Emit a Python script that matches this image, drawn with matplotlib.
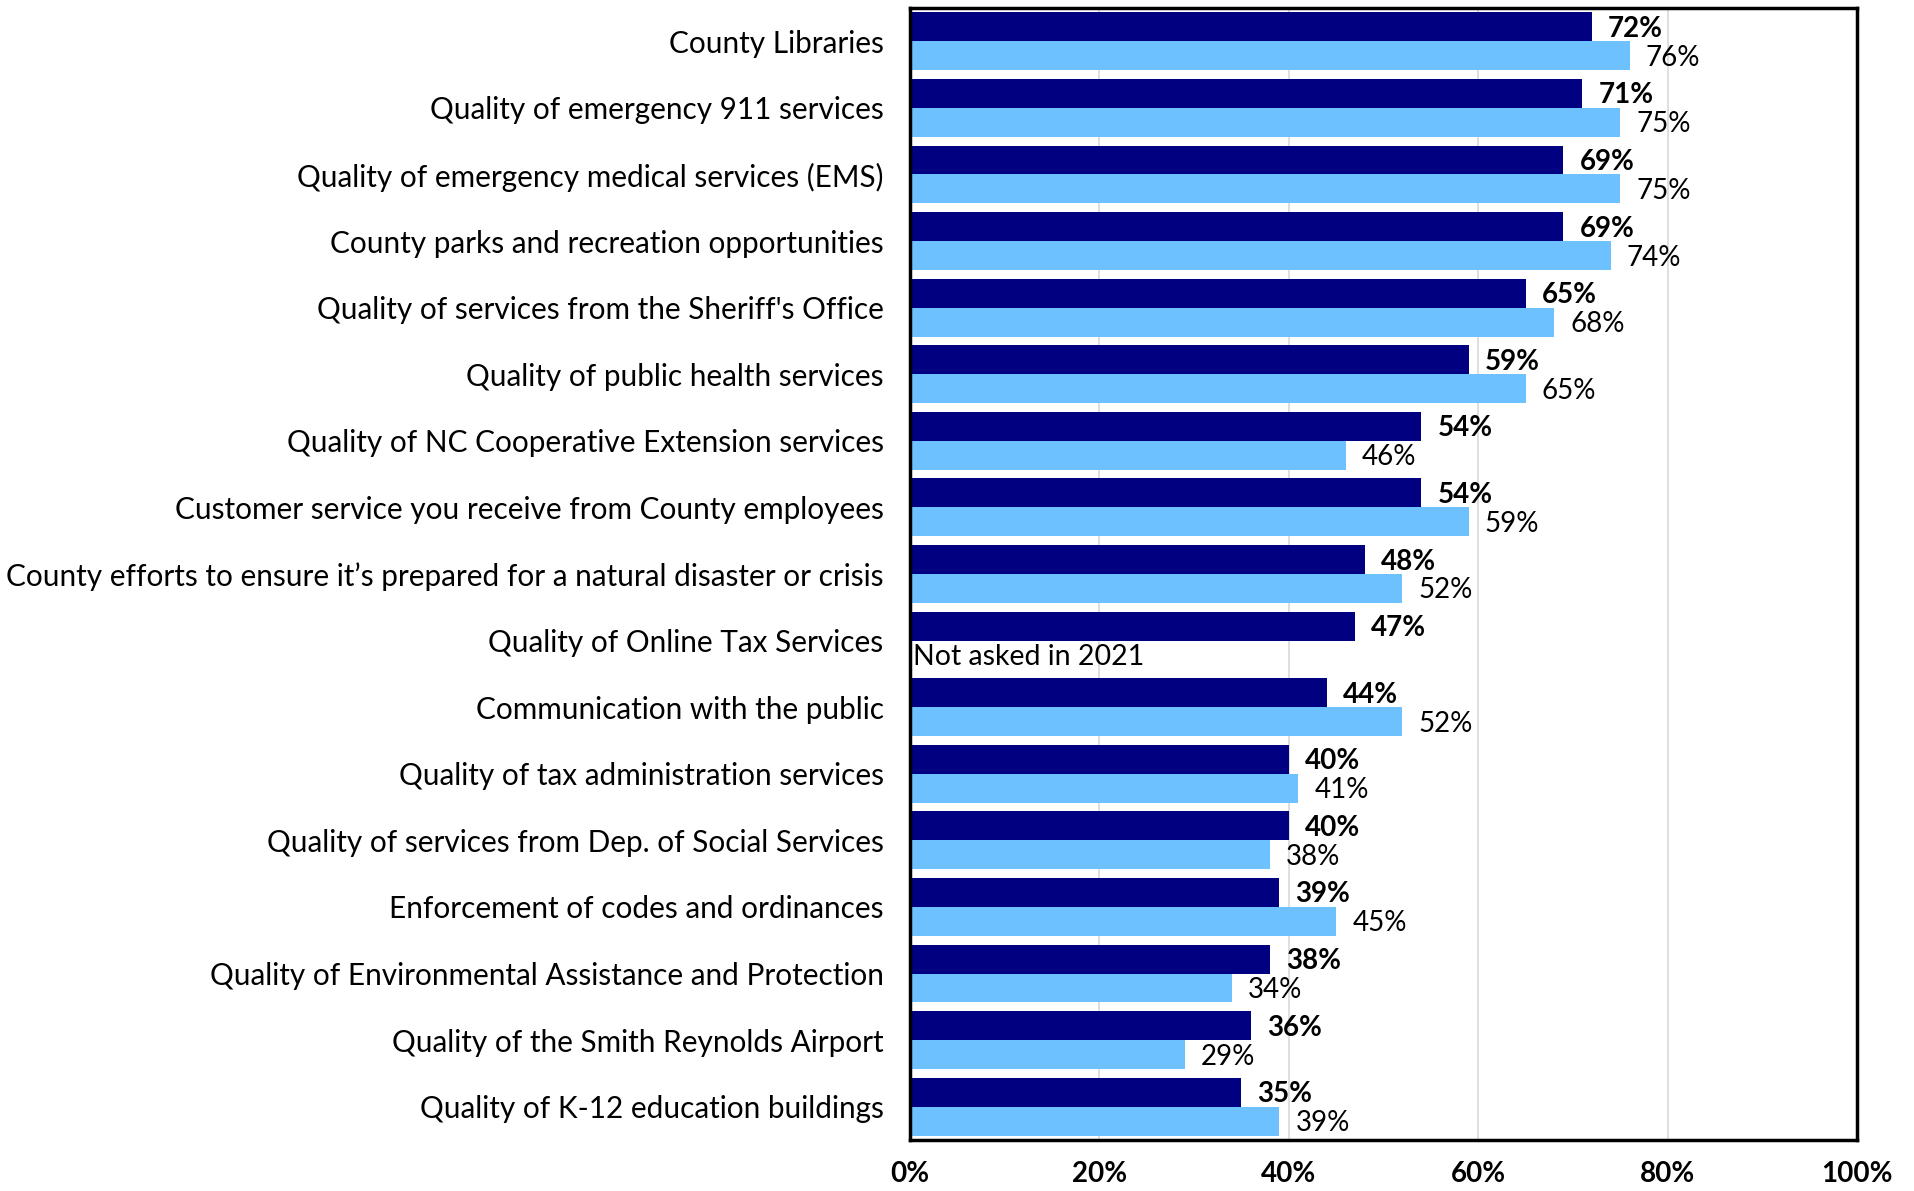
import numpy as np
import matplotlib
matplotlib.use("Agg")
import matplotlib.pyplot as plt

plt.rcParams['font.family'] = ['Lato', 'DejaVu Sans']

categories = [
    "County Libraries",
    "Quality of emergency 911 services",
    "Quality of emergency medical services (EMS)",
    "County parks and recreation opportunities",
    "Quality of services from the Sheriff's Office",
    "Quality of public health services",
    "Quality of NC Cooperative Extension services",
    "Customer service you receive from County employees",
    "County efforts to ensure it\u2019s prepared for a natural disaster or crisis",
    "Quality of Online Tax Services",
    "Communication with the public",
    "Quality of tax administration services",
    "Quality of services from Dep. of Social Services",
    "Enforcement of codes and ordinances",
    "Quality of Environmental Assistance and Protection",
    "Quality of the Smith Reynolds Airport",
    "Quality of K-12 education buildings",
]
values_2023 = [72, 71, 69, 69, 65, 59, 54, 54, 48, 47, 44, 40, 40, 39, 38, 36, 35]
values_2021 = [76, 75, 75, 74, 68, 65, 46, 59, 52, None, 52, 41, 38, 45, 34, 29, 39]
xticks = [0, 20, 40, 60, 80, 100]

dark = "#000080"
light = "#6EC1FF"

fig = plt.figure(figsize=(19.15, 11.91), dpi=100)
ax = fig.add_axes([910 / 1915, 1 - 1140 / 1191, (1857 - 910) / 1915, (1140 - 8) / 1191])

n = len(categories)
y = np.arange(n)
h = 0.435

ax.barh(y - h / 2, values_2023, height=h, color=dark, zorder=2)
v21 = [v if v is not None else 0 for v in values_2021]
ax.barh(y + h / 2, v21, height=h, color=light, zorder=2)

for i, v in enumerate(values_2023):
    ax.text(v + 1.7, i - h / 2 + 0.03, f"{v}%", va="center", ha="left",
            fontsize=20, fontweight="bold", color="black")
for i, v in enumerate(values_2021):
    if v is None:
        ax.text(0.3, i + h / 2 + 0.03, "Not asked in 2021", va="center", ha="left",
                fontsize=20.5, color="black")
    else:
        ax.text(v + 1.7, i + h / 2 + 0.03, f"{v}%", va="center", ha="left",
                fontsize=20, color="black")

ax.set_ylim(n - 0.5, -0.5)
ax.set_xlim(0, 100)
ax.set_yticks(y)
ax.set_yticklabels(categories, fontsize=21.4)
ax.set_xticks(xticks)
ax.set_xticklabels([f"{t}%" for t in xticks], fontsize=20, fontweight="bold")
ax.tick_params(axis="both", length=0)
ax.tick_params(axis="y", pad=19)
ax.tick_params(axis="x", pad=15)
ax.grid(axis="x", color="#D9D9D9", linewidth=1.2, zorder=0)
ax.set_axisbelow(True)
for s in ax.spines.values():
    s.set_linewidth(2.5)
    s.set_color("black")

fig.savefig("out.png", dpi=100)
